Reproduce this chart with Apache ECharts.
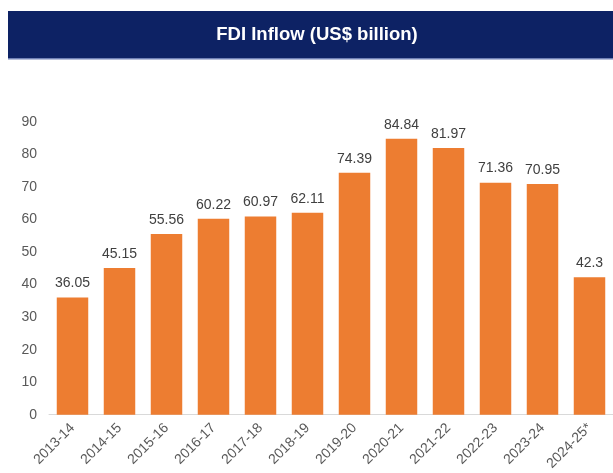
<!DOCTYPE html>
<html>
<head>
<meta charset="utf-8">
<script src="https://cdn.jsdelivr.net/npm/echarts@6/dist/echarts.min.js"></script>
<style>
  html, body { margin: 0; padding: 0; background: #fff; }
  #chart { width: 613px; height: 473px; }
</style>
</head>
<body>
<div id="chart"></div>
<script>
const years = ['2013-14', '2014-15', '2015-16', '2016-17', '2017-18', '2018-19',
  '2019-20', '2020-21', '2021-22', '2022-23', '2023-24', '2024-25*'];
const fdiInflow = [36.05, 45.15, 55.56, 60.22, 60.97, 62.11, 74.39, 84.84, 81.97, 71.36, 70.95, 42.3];
const yTicks = [0, 90, 10]; // min, max, step

const chart = echarts.init(document.getElementById('chart'));

const option = {
  animation: false,
  graphic: [
    // title banner
    {
      type: 'rect',
      shape: { x: 8, y: 11, width: 605, height: 47 },
      style: { fill: '#0d2264' }
    },
    {
      type: 'rect',
      shape: { x: 8, y: 58, width: 605, height: 1.5 },
      style: { fill: '#6f80b5' }
    },
    {
      type: 'text',
      x: 317,
      y: 35,
      style: {
        text: 'FDI Inflow (US$ billion)',
        fill: '#ffffff',
        font: 'bold 18.5px "Liberation Sans", Arial, sans-serif',
        align: 'center',
        verticalAlign: 'middle'
      }
    }
  ],
  grid: {
    left: 49,
    top: 122,
    width: 565,
    bottom: 56,
    containLabel: false
  },
  xAxis: {
    type: 'category',
    data: years,
    axisLine: { show: true, lineStyle: { color: '#d9d9d9', width: 1 } },
    axisTick: { show: false },
    axisLabel: {
      rotate: 45,
      margin: 11,
      interval: 0,
      color: '#595959',
      fontSize: 14,
      fontFamily: '"Liberation Sans", Arial, sans-serif'
    }
  },
  yAxis: {
    type: 'value',
    min: yTicks[0],
    max: yTicks[1],
    interval: yTicks[2],
    axisLine: { show: false },
    axisTick: { show: false },
    splitLine: { show: false },
    axisLabel: {
      margin: 12,
      color: '#595959',
      fontSize: 14,
      fontFamily: '"Liberation Sans", Arial, sans-serif'
    }
  },
  series: [
    {
      name: 'FDI Inflow',
      type: 'bar',
      data: fdiInflow,
      barWidth: '67%',
      itemStyle: { color: '#ed7d31' },
      label: {
        show: true,
        position: 'top',
        distance: 7,
        color: '#404040',
        fontSize: 14,
        fontFamily: '"Liberation Sans", Arial, sans-serif'
      }
    }
  ]
};

chart.setOption(option);
</script>
</body>
</html>
